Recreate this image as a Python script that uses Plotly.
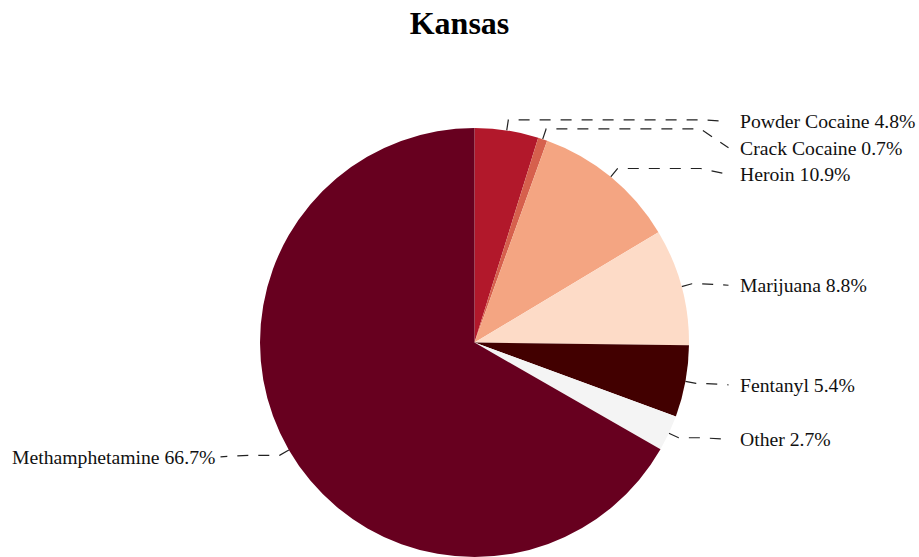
import math
import plotly.graph_objects as go

title = "Kansas"
labels = ["Powder Cocaine", "Crack Cocaine", "Heroin", "Marijuana", "Fentanyl", "Other", "Methamphetamine"]
values = [4.8, 0.7, 10.9, 8.8, 5.4, 2.7, 66.7]
colors = ["#b2182b", "#d6604d", "#f4a582", "#fddbc7", "#420000", "#f4f4f4", "#67001f"]

W, H = 919, 557
TOP = 100          # plot area top (px)
PIE_TOP = 128      # pie top (px)
cx, r = 474.5, 214.5
cy = PIE_TOP + r
plot_h = H - TOP

fig = go.Figure()
fig.add_trace(go.Pie(
    labels=labels, values=values, sort=False, direction="clockwise", rotation=0,
    marker=dict(colors=colors, line=dict(width=0)),
    textinfo="none", hoverinfo="label+percent", showlegend=False,
    domain=dict(x=[(cx - r) / W, (cx + r) / W], y=[0, (H - PIE_TOP) / plot_h]),
))

total = sum(values)
cum = 0
items = []
for lab, v in zip(labels, values):
    mid = (cum + v / 2) / total * 2 * math.pi
    cum += v
    s, c = math.sin(mid), math.cos(mid)
    ax, ay = cx + r * s, cy - r * c
    bx, by = cx + r * 1.05 * s, cy - r * 1.05 * c
    side = 1 if s >= 0 else -1
    items.append(dict(lab=lab, v=v, ax=ax, ay=ay, bx=bx, by=by, side=side, ly=by + 1.5))

# simple label collision avoidance per side
gap = 26.5
for side in (1, -1):
    grp = sorted([it for it in items if it["side"] == side], key=lambda d: d["ly"])
    for i in range(1, len(grp)):
        if grp[i]["ly"] < grp[i - 1]["ly"] + gap:
            grp[i]["ly"] = grp[i - 1]["ly"] + gap

for it in items:
    sd = it["side"]
    cxp = cx + sd * 226
    dxp = cx + sd * 254
    xs = [it["ax"], it["bx"], cxp, dxp]
    ys = [it["ay"], it["by"], it["by"], it["ly"]]
    fig.add_trace(go.Scatter(
        x=xs, y=ys, mode="lines", line=dict(color="#222222", width=1.2, dash="11px,10px"),
        hoverinfo="skip", showlegend=False,
    ))
    fig.add_annotation(
        x=cx + sd * (263 if sd > 0 else 258), y=it["ly"], xref="x", yref="y",
        text=f"{it['lab']} {it['v']:.1f}%", showarrow=False,
        xanchor="left" if sd > 0 else "right", yanchor="middle",
        font=dict(family="Liberation Serif", size=19.7, color="#111111"),
    )

fig.update_layout(
    width=W, height=H,
    margin=dict(l=0, r=0, t=TOP, b=0),
    paper_bgcolor="white", plot_bgcolor="white",
    title=dict(text=title, x=0.5, xanchor="center", y=1 - 23 / H, yref="container", yanchor="middle",
               font=dict(family="Liberation Serif", size=32, color="#000000", weight="bold")),
    xaxis=dict(range=[0, W], visible=False, fixedrange=True),
    yaxis=dict(range=[H, TOP], visible=False, fixedrange=True),
)

fig.write_html("out.html", config={"displayModeBar": False},
               post_script="document.body.style.margin='0';")
